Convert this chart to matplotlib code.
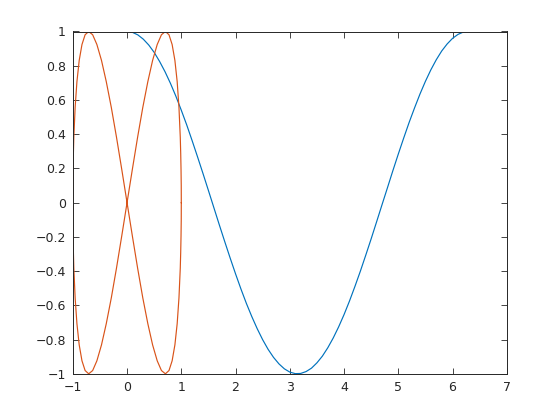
import matplotlib
matplotlib.use('Agg')
import matplotlib.pyplot as plt

# blue curve
blue_x = [0.0, 0.1, 0.2, 0.3, 0.4, 0.5, 0.6, 0.7, 0.8, 0.9, 1.0, 1.1, 1.2, 1.3, 1.4, 1.5, 1.6, 1.7,
          1.8, 1.9, 2.0, 2.1, 2.2, 2.3, 2.4, 2.5, 2.6, 2.7, 2.8, 2.9, 3.0, 3.1, 3.2, 3.3, 3.4, 3.5,
          3.6, 3.7, 3.8, 3.9, 4.0, 4.1, 4.2, 4.3, 4.4, 4.5, 4.6, 4.7, 4.8, 4.9, 5.0, 5.1, 5.2, 5.3,
          5.4, 5.5, 5.6, 5.7, 5.8, 5.9, 6.0, 6.1, 6.2, 6.28]
blue_y = [1.000, 0.995, 0.980, 0.955, 0.921, 0.878, 0.825, 0.765, 0.697, 0.622, 0.540, 0.454,
          0.362, 0.267, 0.170, 0.071, -0.029, -0.129, -0.227, -0.323, -0.416, -0.505, -0.589,
          -0.666, -0.737, -0.801, -0.857, -0.904, -0.942, -0.971, -0.990, -0.999, -0.998, -0.987,
          -0.967, -0.936, -0.897, -0.848, -0.791, -0.726, -0.654, -0.575, -0.490, -0.401, -0.307,
          -0.211, -0.112, -0.012, 0.087, 0.187, 0.284, 0.378, 0.469, 0.554, 0.635, 0.709, 0.776,
          0.835, 0.886, 0.927, 0.960, 0.983, 0.997, 1.000]

# orange figure-eight
orange_x = [1.000, 0.999, 0.995, 0.989, 0.981, 0.957, 0.924, 0.882, 0.831, 0.773, 0.707, 0.634, 0.556,
            0.471, 0.383, 0.290, 0.195, 0.098, 0.000,
            -0.098, -0.195, -0.290, -0.383, -0.471, -0.556, -0.634, -0.707, -0.773, -0.831, -0.882,
            -0.924, -0.957, -0.981, -0.989, -0.995, -0.999, -1.000,
            -0.999, -0.995, -0.989, -0.981, -0.957, -0.924, -0.882, -0.831, -0.773, -0.707, -0.634,
            -0.556, -0.471, -0.383, -0.290, -0.195, -0.098, 0.000,
            0.098, 0.195, 0.290, 0.383, 0.471, 0.556, 0.634, 0.707, 0.773, 0.831, 0.882, 0.924,
            0.957, 0.981, 0.989, 0.995, 0.999, 1.000]
orange_y = [0.000, 0.098, 0.195, 0.290, 0.383, 0.556, 0.707, 0.831, 0.924, 0.981, 1.000, 0.981, 0.924,
            0.831, 0.707, 0.556, 0.383, 0.195, 0.000,
            -0.195, -0.383, -0.556, -0.707, -0.831, -0.924, -0.981, -1.000, -0.981, -0.924, -0.831,
            -0.707, -0.556, -0.383, -0.290, -0.195, -0.098, 0.000,
            0.098, 0.195, 0.290, 0.383, 0.556, 0.707, 0.831, 0.924, 0.981, 1.000, 0.981, 0.924,
            0.831, 0.707, 0.556, 0.383, 0.195, 0.000,
            -0.195, -0.383, -0.556, -0.707, -0.831, -0.924, -0.981, -1.000, -0.981, -0.924, -0.831,
            -0.707, -0.556, -0.383, -0.290, -0.195, -0.098, 0.000]

x_ticks = [-1, 0, 1, 2, 3, 4, 5, 6, 7]
y_ticks = [-1, -0.8, -0.6, -0.4, -0.2, 0, 0.2, 0.4, 0.6, 0.8, 1]

fig = plt.figure(figsize=(5.6, 4.2), dpi=100)
ax = fig.add_axes([0.13, 0.11, 0.775, 0.815])

ax.plot(blue_x, blue_y, color='#0072BD', lw=0.85)
ax.plot(orange_x, orange_y, color='#D95319', lw=0.85)

ax.set_xlim(-1, 7)
ax.set_ylim(-1, 1)
ax.set_xticks(x_ticks)
ax.set_yticks(y_ticks)
ax.set_xticklabels([('%g' % v).replace('-', '\u2212') for v in x_ticks])
ax.set_yticklabels([('%g' % v).replace('-', '\u2212') for v in y_ticks])
ax.tick_params(direction='in', top=True, right=True, length=4, width=0.6,
               color='#262626', labelcolor='#262626', labelsize=9, pad=5)
for s in ax.spines.values():
    s.set_color('#262626')
    s.set_linewidth(0.7)

fig.savefig('out.png', dpi=100)
